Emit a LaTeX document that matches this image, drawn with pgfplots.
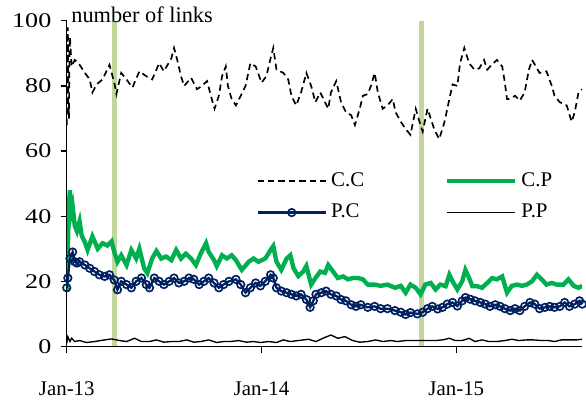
\documentclass[border=0pt]{standalone}
\usepackage{pgfplots}
\pgfplotsset{compat=1.18}
\usepackage{fontspec}
\setmainfont{Liberation Serif}
\definecolor{cpgreen}{RGB}{0,176,80}
\definecolor{pcnavy}{RGB}{0,32,96}
\definecolor{vline}{RGB}{195,214,155}
\begin{document}
\begin{tikzpicture}
\begin{axis}[
  scale only axis, width=247pt, height=156pt,
  xmin=0, xmax=966, ymin=0, ymax=100,
  axis x line=bottom, axis y line=left,
  axis line style={-, line width=0.6pt},
  xtick={0,365,730}, xticklabels={Jan-13,Jan-14,Jan-15},
  ytick={0,20,40,60,80,100},
  tick align=outside, tick style={black, line width=0.6pt}, major tick length=3pt,
  xticklabel style={yshift=-10.5pt},
  yticklabel style={xscale=1.25},
  /pgf/number format/assume math mode=true,
  ylabel={number of links},
  ylabel style={at={(axis description cs:0,1)}, rotate=-90, anchor=base west, xshift=2pt, yshift=-1pt, inner sep=0pt, font=\fontsize{10.7}{12}\selectfont},
  legend columns=2,
  legend cell align=left,
  legend style={draw=none, fill=none, at={(rel axis cs:0.355,0.561)}, anchor=north west,
    /tikz/every even column/.append style={column sep=36.5pt}, row sep=3pt},
  legend image code/.code={\draw[mark repeat=2,mark phase=2,#1] plot coordinates {(0cm,0cm) (0.575cm,0cm) (1.15cm,0cm)};},
]
\addplot[vline, line width=2.4pt, forget plot] coordinates {(90,0) (90,100)};
\addplot[vline, line width=2.4pt, forget plot] coordinates {(664,0) (664,100)};

% C.C
\addplot[black, line width=0.8pt, dash pattern=on 3pt off 2pt] coordinates {
(0,68) (1,88) (2,98) (3,75) (4,70) (5,90) (6,95) (9,86) (15,88) (24,86.5) (34,84) (43,82) (48,78) (56,80.5) (67,82) (80,86.5) (89,81) (93,77.5) (102,84) (112,82) (123,79.5) (136,84.5) (149,83) (160,82) (168,85) (173,87) (182,84.5) (196,88.5) (201,91.7) (207,88) (214,83) (220,80) (233,82.5) (244,79) (253,80) (263,81.5) (270,77) (277,73) (285,77) (291,83) (298,86) (302,80) (309,76) (317,74) (326,77) (335,80) (344,87) (354,86) (365,81) (374,83) (382,88.5) (387,91.7) (393,85) (406,84) (415,82) (421,77) (430,74) (439,78) (449,84) (458,80) (466,75) (475,78) (484,75) (490,73) (495,78) (505,81.5) (514,75) (523,72) (533,71) (540,68) (549,73) (555,77) (564,77.5) (570,80) (577,84) (583,78) (592,73) (601,74) (611,76) (616,72) (626,69) (635,66.8) (644,65) (654,73) (661,69) (667,66) (676,73) (682,70) (689,66.5) (698,63.7) (708,69) (717,76) (723,80.5) (732,80) (737,87) (745,91.7) (754,87) (764,85) (773,85.4) (782,88) (788,85) (797,86.6) (806,88) (816,86) (821,81) (825,76) (831,76) (840,77) (849,75.5) (858,78) (866,85) (872,88) (877,86.6) (886,84) (899,84.5) (909,80) (914,77) (924,75) (937,74) (946,69) (952,72) (959,78) (966,79)
};
\addlegendentry{C.C}

% C.P
\addplot[cpgreen, line width=2.1pt] coordinates {
(0,17) (2,30) (4,44) (6,48) (7,40) (11,43) (15,37) (19,35.4) (24,38.4) (28,34) (34,32) (39,29.6) (48,33.8) (58,30) (67,31.7) (76,31) (84,32.3) (89,29) (95,26) (102,28) (112,25) (121,29.6) (130,27) (136,30) (145,24) (151,22.5) (160,27) (168,29.3) (177,27) (186,27.6) (196,26.5) (205,29.6) (214,27) (223,28.5) (233,27) (242,25) (251,28.5) (261,31.7) (266,29) (276,26.5) (281,24.7) (291,28) (300,27) (309,28) (317,26.5) (328,23.5) (341,26) (350,27) (359,26) (372,27) (382,29.6) (387,30.8) (393,26) (402,23.5) (412,27) (419,28) (425,24) (434,21.6) (443,23) (449,24.7) (458,19) (466,21) (475,23) (484,22.6) (490,25) (499,23) (508,21) (518,21.5) (527,20.6) (536,21) (546,21) (555,20.6) (564,19) (577,19) (588,18.6) (601,19) (615,18) (626,18.6) (635,16.5) (644,19) (654,18) (663,16) (672,19) (682,19.5) (691,17.5) (700,19) (710,18.5) (717,22) (723,20) (732,17.5) (741,20) (747,23.5) (754,21) (760,18.5) (769,18.5) (778,18) (788,19.5) (797,21) (806,20.6) (816,21.5) (825,16.5) (834,18.6) (844,19) (853,18.6) (862,19) (872,20) (881,22) (890,20.6) (899,19) (909,19.5) (918,19) (931,19) (940,20.6) (950,18.6) (959,18) (966,18.6)
};
\addlegendentry{C.P}

% P.C
\addplot[pcnavy, line width=1.1pt, mark=o, mark size=1.8pt, mark options={fill=white, line width=0.8pt, solid}] coordinates {
(0,18) (2,21) (6,27) (11,29) (15,26) (19,25.6) (24,26) (34,25) (43,24) (52,23) (61,22) (71,21.5) (80,22) (89,20.4) (95,17.4) (102,20) (112,19) (121,18) (130,20) (140,21) (149,19) (155,18) (164,21) (173,20) (182,19) (192,20) (201,21) (210,19.5) (220,20) (229,21) (238,20.6) (248,19) (257,20) (266,21) (276,19.5) (285,18) (294,19) (304,20) (317,20.6) (326,19) (335,16.5) (344,18) (354,19.5) (363,18.6) (372,20) (382,22) (387,21) (393,18) (402,17) (412,16.5) (421,16) (430,15.5) (439,16) (449,14.4) (456,12) (462,14) (467,16) (477,16.5) (486,17) (495,16) (505,15.5) (514,14.4) (523,14) (533,12.8) (542,12.3) (551,12.8) (564,12) (577,12.3) (588,11.6) (601,11.6) (615,11) (626,10.5) (635,9.8) (644,10.4) (657,10) (667,10.5) (676,11.6) (685,12.3) (695,11.5) (704,12) (713,13) (723,13.5) (732,12.4) (741,14) (747,15) (756,14.5) (765,14) (775,13.5) (784,13) (793,12.3) (803,12.8) (812,12.3) (821,11.6) (831,11) (840,11.6) (849,11) (858,12.3) (868,13.5) (877,13) (886,11.6) (896,12) (905,12.3) (914,12) (924,12.3) (933,13.5) (942,12.3) (952,13) (961,14) (966,13)
};
\addlegendentry{P.C}

% P.P
\addplot[black, line width=0.65pt] coordinates {
(0,1) (2,3) (6,1.5) (9,2.5) (15,1.5) (24,1.8) (37,1.2) (52,1.5) (71,2) (84,2.3) (99,1.8) (112,1.5) (127,2.5) (140,1.5) (155,1.5) (168,2) (182,1.3) (196,1.5) (210,1.5) (225,2) (238,1.3) (251,1.5) (266,2) (281,1.2) (294,1.5) (307,1.5) (322,1.8) (337,1.3) (350,1.5) (363,1.2) (378,1.5) (393,1.2) (406,2) (419,1.5) (434,1.8) (453,2.2) (467,1.5) (480,2.5) (495,3.5) (508,2.5) (521,3) (536,1.8) (549,1.3) (564,1.5) (579,2) (592,1.5) (607,1.8) (620,1.5) (635,1.8) (648,1.8) (661,1.8) (676,1.8) (691,1.8) (704,2) (717,2.5) (728,1.8) (741,1.8) (754,2.5) (765,1.5) (778,2) (791,1.5) (806,1.5) (821,1.8) (834,2.2) (847,1.8) (862,2) (875,2) (890,1.8) (903,1.8) (914,1.5) (927,2) (940,2) (955,2) (966,2.2)
};
\addlegendentry{P.P}
\end{axis}
\path ([xshift=-32pt,yshift=10pt]current axis.north west);
\end{tikzpicture}
\end{document}
